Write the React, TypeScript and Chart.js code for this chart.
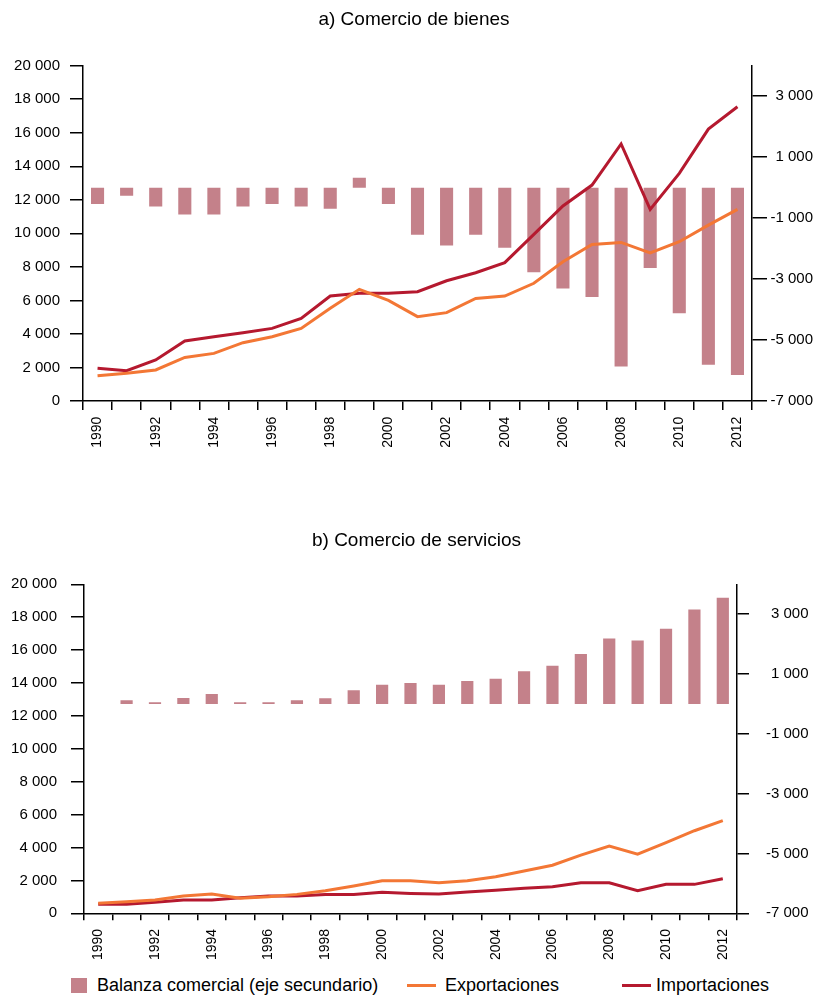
import React, { useEffect, useRef } from 'react';
import Chart from 'chart.js/auto';

const YEARS = ['1990','1991','1992','1993','1994','1995','1996','1997','1998','1999','2000','2001','2002','2003','2004','2005','2006','2007','2008','2009','2010','2011','2012'];

const GOODS_EXPORTS = [1500,1650,1850,2600,2840,3480,3830,4330,5530,6660,6000,5030,5270,6120,6260,7020,8310,9340,9460,8840,9500,10490,11430];
const GOODS_IMPORTS = [1950,1810,2450,3580,3830,4070,4330,4930,6260,6420,6420,6520,7170,7650,8250,9940,11630,12880,15330,11430,13580,16220,17550];
const GOODS_BALANCE = [-540,-270,-620,-880,-880,-620,-540,-620,-690,320,-540,-1550,-1900,-1550,-1970,-2780,-3310,-3590,-5870,-2640,-4120,-5810,-6150];

const SERV_EXPORTS = [610,700,810,1050,1170,910,1010,1150,1370,1660,1980,1980,1860,1980,2220,2570,2920,3540,4090,3600,4290,5020,5630];
const SERV_IMPORTS = [550,550,670,810,810,950,1050,1050,1150,1150,1280,1210,1170,1290,1400,1520,1620,1860,1860,1370,1760,1760,2100];
const SERV_BALANCE = [null,120,60,200,330,60,60,120,190,460,640,700,640,770,840,1090,1280,1670,2190,2120,2510,3160,3550];

const LEFT_MIN = 0;
const LEFT_MAX = 20000;
const LEFT_STEP = 2000;
const RIGHT_MIN = -7000;
const RIGHT_MAX = 4000;
const RIGHT_TICKS = [-7000, -5000, -3000, -1000, 1000, 3000];

const TITLE_A = 'a) Comercio de bienes';
const TITLE_B = 'b) Comercio de servicios';
const LEGEND_BALANCE = 'Balanza comercial (eje secundario)';
const LEGEND_EXPORTS = 'Exportaciones';
const LEGEND_IMPORTS = 'Importaciones';

const COLOR_BAR = '#C4818A';
const COLOR_EXP = '#F37735';
const COLOR_IMP = '#B5192F';
const FONT = "'Liberation Sans', Arial, Helvetica, sans-serif";

function fmt(v: number): string {
  const s = Math.abs(v).toString().replace(/\B(?=(\d{3})+(?!\d))/g, ' ');
  return (v < 0 ? '-' : '') + s;
}

type Layout = {
  top: number;
  height: number;
  padRight: number;
  padTop: number;
  leftWidth: number;
  rightWidth: number;
  xHeight: number;
  titleX: number;
  titleY: number;
  xTick: number;
  xPad: number;
  yTick: number;
  yPad: number;
  y1Tick: number;
  barPct: number;
};

function TradeChart(props: {
  title: string;
  exportsData: number[];
  importsData: number[];
  balanceData: (number | null)[];
  layout: Layout;
}) {
  const ref = useRef<HTMLCanvasElement | null>(null);
  const { title, exportsData, importsData, balanceData, layout: L } = props;

  useEffect(() => {
    if (!ref.current) return;
    const titlePlugin = {
      id: 'fixedTitle',
      afterDraw(chart: any) {
        const ctx = chart.ctx;
        ctx.save();
        ctx.fillStyle = '#000';
        ctx.font = `normal 19px ${FONT}`;
        ctx.textAlign = 'center';
        ctx.textBaseline = 'middle';
        ctx.fillText(title, L.titleX, L.titleY);
        ctx.restore();
      },
    };
    const chart = new Chart(ref.current, {
      type: 'bar',
      data: {
        labels: YEARS,
        datasets: [
          {
            type: 'line',
            label: LEGEND_EXPORTS,
            data: exportsData,
            yAxisID: 'y',
            borderColor: COLOR_EXP,
            backgroundColor: COLOR_EXP,
            borderWidth: 3,
            pointRadius: 0,
            tension: 0,
            order: 0,
          } as any,
          {
            type: 'line',
            label: LEGEND_IMPORTS,
            data: importsData,
            yAxisID: 'y',
            borderColor: COLOR_IMP,
            backgroundColor: COLOR_IMP,
            borderWidth: 3,
            pointRadius: 0,
            tension: 0,
            order: 0,
          } as any,
          {
            type: 'bar',
            label: LEGEND_BALANCE,
            data: balanceData,
            yAxisID: 'y1',
            backgroundColor: COLOR_BAR,
            borderWidth: 0,
            barPercentage: L.barPct,
            categoryPercentage: 1,
            order: 1,
          } as any,
        ],
      },
      plugins: [titlePlugin],
      options: {
        responsive: false,
        animation: false,
        devicePixelRatio: 1,
        layout: { padding: { left: 0, right: L.padRight, top: L.padTop, bottom: 0 } },
        plugins: {
          legend: { display: false },
          tooltip: { enabled: false },
          title: { display: false },
        },
        scales: {
          x: {
            type: 'category',
            offset: true,
            grid: {
              display: true,
              offset: true,
              drawOnChartArea: false,
              drawTicks: true,
              tickLength: L.xTick,
              color: '#000',
              lineWidth: 1.5,
            },
            border: { display: true, color: '#000', width: 1.5 },
            ticks: {
              autoSkip: false,
              minRotation: 90,
              maxRotation: 90,
              padding: L.xPad,
              color: '#000',
              font: { family: FONT, size: 14 },
              callback: (_v: any, i: number) => (i % 2 === 0 ? YEARS[i] : ''),
            },
            afterFit: (s: any) => { s.height = L.xHeight; },
          },
          y: {
            position: 'left',
            min: LEFT_MIN,
            max: LEFT_MAX,
            grid: {
              drawOnChartArea: false,
              drawTicks: true,
              tickLength: L.yTick,
              color: '#000',
              lineWidth: 1.5,
            },
            border: { display: true, color: '#000', width: 1.5 },
            ticks: {
              stepSize: LEFT_STEP,
              padding: L.yPad,
              color: '#000',
              font: { family: FONT, size: 15 },
              callback: (v: any) => fmt(Number(v)),
            },
            afterFit: (s: any) => { s.width = L.leftWidth; },
          },
          y1: {
            position: 'right',
            min: RIGHT_MIN,
            max: RIGHT_MAX,
            grid: {
              drawOnChartArea: false,
              drawTicks: true,
              tickLength: L.y1Tick,
              color: '#000',
              lineWidth: 1.5,
            },
            border: { display: true, color: '#000', width: 1.5 },
            afterBuildTicks: (s: any) => { s.ticks = RIGHT_TICKS.map((v) => ({ value: v })); },
            ticks: {
              padding: 4,
              crossAlign: 'far',
              color: '#000',
              font: { family: FONT, size: 15 },
              callback: (v: any) => fmt(Number(v)),
            },
            afterFit: (s: any) => { s.width = L.rightWidth; },
          },
        },
      } as any,
    });
    return () => chart.destroy();
  }, []);

  return (
    <canvas
      ref={ref}
      width={814}
      height={L.height}
      style={{ position: 'absolute', left: 0, top: L.top, width: 814, height: L.height }}
    />
  );
}

const LAYOUT_A: Layout = {
  top: 0, height: 470, padRight: 1, padTop: 65.7, leftWidth: 83, rightWidth: 61, xHeight: 69,
  titleX: 414, titleY: 20, xTick: 9, xPad: 6.7, yTick: 13, yPad: 10,
  y1Tick: 15, barPct: 0.45,
};

const LAYOUT_B: Layout = {
  top: 500, height: 470, padRight: 5.5, padTop: 84.3, leftWidth: 84, rightWidth: 71.5, xHeight: 56.7,
  titleX: 416.5, titleY: 40.5, xTick: 7, xPad: 8.6, yTick: 13, yPad: 14,
  y1Tick: 12, barPct: 0.43,
};

const legendText: React.CSSProperties = {
  position: 'absolute',
  top: 975,
  height: 20,
  lineHeight: '20px',
  fontFamily: FONT,
  fontSize: 18,
  color: '#000',
  whiteSpace: 'nowrap',
};

export default function App() {
  return (
    <div style={{ position: 'absolute', left: 0, top: 0, width: 814, height: 996, background: '#fff', overflow: 'hidden' }}>
      <TradeChart title={TITLE_A} exportsData={GOODS_EXPORTS} importsData={GOODS_IMPORTS} balanceData={GOODS_BALANCE} layout={LAYOUT_A} />
      <TradeChart title={TITLE_B} exportsData={SERV_EXPORTS} importsData={SERV_IMPORTS} balanceData={SERV_BALANCE} layout={LAYOUT_B} />
      <div style={{ position: 'absolute', left: 71, top: 978, width: 16, height: 15, background: COLOR_BAR }} />
      <div style={{ ...legendText, left: 97 }}>{LEGEND_BALANCE}</div>
      <div style={{ position: 'absolute', left: 407, top: 984, width: 29, height: 3, background: COLOR_EXP }} />
      <div style={{ ...legendText, left: 445 }}>{LEGEND_EXPORTS}</div>
      <div style={{ position: 'absolute', left: 622, top: 984, width: 29, height: 3, background: COLOR_IMP }} />
      <div style={{ ...legendText, left: 656 }}>{LEGEND_IMPORTS}</div>
    </div>
  );
}
